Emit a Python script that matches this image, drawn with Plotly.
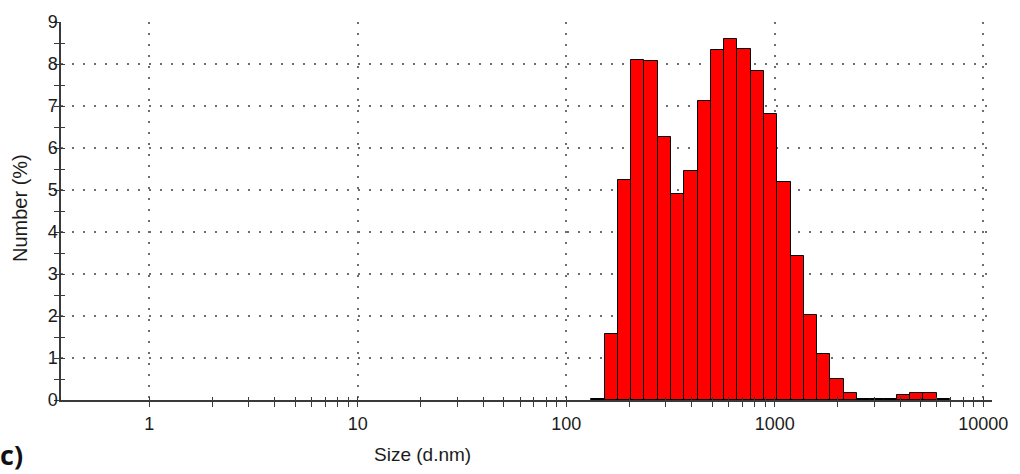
import numpy as np
import plotly.graph_objects as go

# Size classes (d.nm) and Number (%)
size_nm = [141.8, 164.2, 190.1, 220.2, 255.0, 295.3, 342.0, 396.1, 458.7, 531.2,
           615.1, 712.4, 825.0, 955.4, 1106, 1281, 1484, 1718, 1990, 2305,
           2669, 3091, 3580, 4145, 4801, 5560, 6439]
number_pct = [0.02, 1.58, 5.24, 8.10, 8.07, 6.26, 4.90, 5.45, 7.11, 8.34,
              8.60, 8.36, 7.84, 6.82, 5.20, 3.44, 2.03, 1.09, 0.49, 0.16,
              0.03, 0.03, 0.03, 0.12, 0.16, 0.16, 0.03]

major_ticks = [1, 10, 100, 1000, 10000]
major_labels = ["1", "10", "100", "1000", "10000"]
y_ticks = [0, 1, 2, 3, 4, 5, 6, 7, 8, 9]

W, H = 1020, 474
ML, MR, MT, MB = 61, 28, 16, 74
PW, PH = W - ML - MR, H - MT - MB

log_x = np.log10(size_nm)
bin_w = float(np.log10(10000 / 0.4) / 69)
major_pos = list(np.log10(major_ticks))
minor_pos = [float(np.log10(k * 10 ** d)) for d in range(0, 4) for k in range(2, 10)]
xr = [-0.4235, 4.042]
yr = [0, 9]

FONT = "Liberation Sans, Arial, sans-serif"
TXT = "#1c1c1c"
AX = "#3a3a3a"
GRID = "#6e6e6e"

fig = go.Figure()
fig.add_trace(go.Bar(
    x=log_x, y=number_pct, width=bin_w,
    marker=dict(color="#ff0000", line=dict(color="#000000", width=1)),
    hoverinfo="skip", showlegend=False,
))
# helper trace for the overlay axes (crossing ticks)
fig.add_trace(go.Scatter(x=[], y=[], xaxis="x2", yaxis="y2", showlegend=False))

fig.update_layout(
    width=W, height=H,
    margin=dict(l=ML, r=MR, t=MT, b=MB),
    paper_bgcolor="white", plot_bgcolor="white",
    font=dict(family=FONT, color=TXT, size=18),
    bargap=0,
    xaxis=dict(
        range=xr, showline=True, linecolor=AX, linewidth=1.5,
        tickmode="array", tickvals=major_pos, ticktext=major_labels,
        ticks="outside", ticklen=5, tickwidth=1, tickcolor=AX,
        tickfont=dict(size=18, color=TXT, family=FONT),
        ticklabelstandoff=2,
        showgrid=True, gridcolor=GRID, griddash="2px,9px", gridwidth=1.5,
        minor=dict(tickmode="array", tickvals=minor_pos, ticks="outside",
                   ticklen=5, tickwidth=1, tickcolor=AX, showgrid=False),
        zeroline=False,
    ),
    yaxis=dict(
        range=yr, showline=True, linecolor=AX, linewidth=1.5,
        tickmode="array", tickvals=y_ticks,
        ticks="outside", ticklen=5, tickwidth=1, tickcolor=AX,
        tickfont=dict(size=18, color=TXT, family=FONT),
        ticklabelstandoff=-7,
        showgrid=True, gridcolor=GRID, griddash="2px,9px", gridwidth=1.5,
        minor=dict(tickmode="linear", tick0=0, dtick=0.5, ticks="outside",
                   ticklen=5, tickwidth=1, tickcolor=AX, showgrid=False),
        zeroline=False,
    ),
    xaxis2=dict(
        overlaying="x", anchor="y2", side="bottom", range=xr,
        tickmode="array", tickvals=major_pos, ticks="inside", ticklen=3,
        tickwidth=1, tickcolor=AX, showticklabels=False, showgrid=False,
        showline=False, zeroline=False,
        minor=dict(tickmode="array", tickvals=minor_pos, ticks="inside",
                   ticklen=3, tickwidth=1, tickcolor=AX, showgrid=False),
    ),
    yaxis2=dict(
        overlaying="y", anchor="x2", side="left", range=yr,
        tickmode="array", tickvals=y_ticks, ticks="inside", ticklen=4,
        tickwidth=1, tickcolor=AX, showticklabels=False, showgrid=False,
        showline=False, zeroline=False,
        minor=dict(tickmode="linear", tick0=0, dtick=0.5, ticks="inside",
                   ticklen=4, tickwidth=1, tickcolor=AX, showgrid=False),
    ),
)

def px_x(p):
    return (p - ML) / PW

def px_y(p):
    return (H - MB - p) / PH

fig.add_annotation(text="Size (d.nm)", xref="paper", yref="paper",
                   x=px_x(422), y=px_y(455), xanchor="center", yanchor="middle",
                   showarrow=False, font=dict(size=19, family=FONT, color=TXT))
fig.add_annotation(text="Number (%)", xref="paper", yref="paper",
                   x=px_x(20), y=px_y(205), xanchor="center", yanchor="middle",
                   textangle=-90, showarrow=False,
                   font=dict(size=20, family=FONT, color=TXT))
fig.add_annotation(text="<b>c)</b>", xref="paper", yref="paper",
                   x=px_x(25), y=px_y(476), xanchor="right", yanchor="bottom",
                   showarrow=False, font=dict(size=27, family="Open Sans, Liberation Sans, sans-serif", color="#111111"))

fig.write_html("out.html")
